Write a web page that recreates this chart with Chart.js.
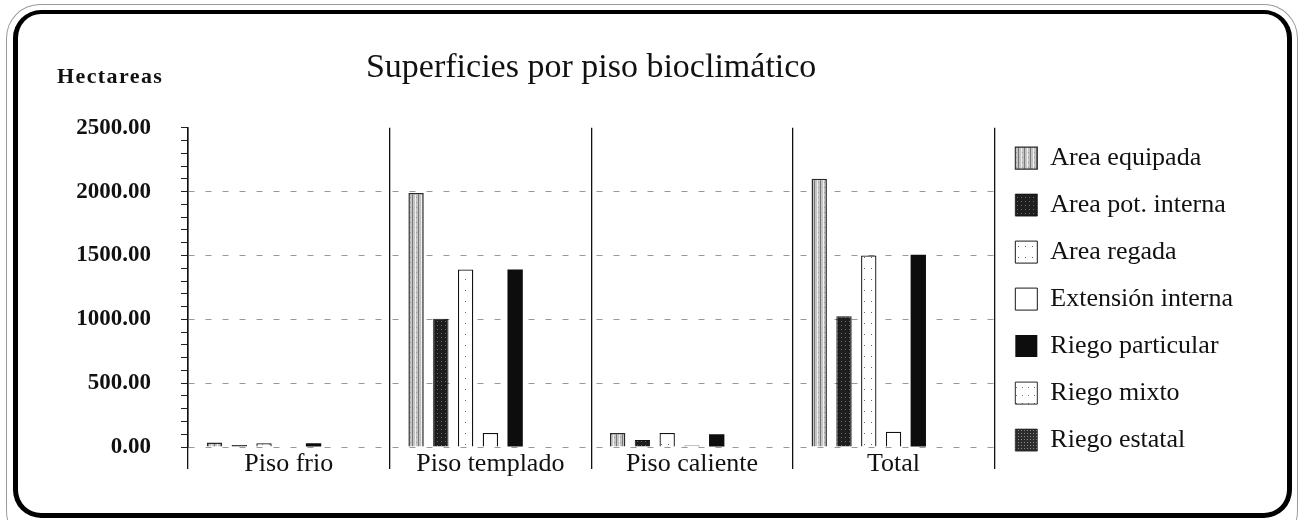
<!DOCTYPE html>
<html>
<head>
<meta charset="utf-8">
<script src="https://cdn.jsdelivr.net/npm/chart.js@4.4.0/dist/chart.umd.min.js"></script>
<style>
html, body { margin: 0; padding: 0; background: #fff; }
#wrap { position: relative; width: 1309px; height: 520px; overflow: hidden; }
#outer { position: absolute; left: 6px; top: 4px; width: 1290px; height: 540px; border: 1px solid #9a9a9a; border-bottom: none; border-radius: 34px; }
#frame { position: absolute; left: 13px; top: 10px; width: 1269px; height: 499px; border: 5px solid #000; border-top-width: 4px; border-radius: 28px; }
canvas { position: absolute; left: 0; top: 0; }
.txt { position: absolute; font-family: "Liberation Serif", "DejaVu Serif", serif; color: #111; white-space: nowrap; }
#unit { left: 57px; top: 63px; font-size: 22px; font-weight: bold; letter-spacing: 1.4px; }
</style>
</head>
<body>
<div id="wrap">
  <div id="outer"></div>
  <div id="frame"></div>
  <canvas id="chart" width="1309" height="520"></canvas>
  <div class="txt" id="unit">Hectareas</div>
</div>
<script>
// ---------------- datos ----------------
const chartTitle = 'Superficies por piso bioclimático';
const categories = ['Piso frio', 'Piso templado', 'Piso caliente', 'Total'];
const seriesNames = ['Area equipada', 'Area pot. interna', 'Area regada', 'Extensión interna',
                     'Riego particular', 'Riego mixto', 'Riego estatal'];

const areaEquipada     = [35, 1990, 110, 2100];
const areaPotInterna   = [15, 1005, 55, 1025];
const areaRegada       = [30, 1390, 110, 1500];
const extensionInterna = [0, 110, 12, 120];
const riegoParticular  = [30, 1390, 100, 1505];
const riegoMixto       = [0, 0, 0, 0];
const riegoEstatal     = [0, 0, 0, 0];

const Y_MIN = 0;
const Y_MAX = 2500;
const Y_LABEL_STEP = 500;

const FONT = '"Liberation Serif", "DejaVu Serif", serif';

// ---------------- tramas de las barras ----------------
function makePattern(w, h, draw) {
    const c = document.createElement('canvas');
    c.width = w; c.height = h;
    const g = c.getContext('2d');
    draw(g);
    return g.createPattern(c, 'repeat');
}

const patEquipada = makePattern(6, 5, g => {
    g.fillStyle = '#c4c4c4'; g.fillRect(0, 0, 6, 5);
    g.fillStyle = '#efefef'; g.fillRect(1, 0, 1, 5);
    g.fillStyle = '#777';    g.fillRect(4, 0, 1, 5);
    g.fillStyle = '#999';    g.fillRect(2, 2, 1, 1);
});
const patPot = makePattern(4, 4, g => {
    g.fillStyle = '#1e1e1e'; g.fillRect(0, 0, 4, 4);
    g.fillStyle = '#6a6a6a'; g.fillRect(1, 1, 1, 1);
});
const patRegada = makePattern(7, 11, g => {
    g.fillStyle = '#fff'; g.fillRect(0, 0, 7, 11);
    g.fillStyle = '#666'; g.fillRect(3, 4, 1, 1);
});
const patMixto = makePattern(6, 8, g => {
    g.fillStyle = '#fff'; g.fillRect(0, 0, 6, 8);
    g.fillStyle = '#777'; g.fillRect(2, 3, 1, 1);
});
const patEstatal = makePattern(3, 3, g => {
    g.fillStyle = '#2c2c2c'; g.fillRect(0, 0, 3, 3);
    g.fillStyle = '#8a8a8a'; g.fillRect(1, 1, 1, 1);
});

// un valor cero no se dibuja (en el original no hay barra)
const noZero = arr => arr.map(v => (v === 0 ? null : v));
const edge = w => ({ left: w, right: w, top: w, bottom: 0 });

const datasets = [
    { label: seriesNames[0], data: noZero(areaEquipada),     backgroundColor: patEquipada, borderColor: '#2a2a2a', borderWidth: edge(1.5) },
    { label: seriesNames[1], data: noZero(areaPotInterna),   backgroundColor: patPot,      borderColor: '#111',    borderWidth: edge(1) },
    { label: seriesNames[2], data: noZero(areaRegada),       backgroundColor: patRegada,   borderColor: '#111',    borderWidth: edge(1.3) },
    { label: seriesNames[3], data: noZero(extensionInterna), backgroundColor: '#fff',      borderColor: '#111',    borderWidth: edge(1.3) },
    { label: seriesNames[4], data: noZero(riegoParticular),  backgroundColor: '#0d0d0d',   borderColor: '#0d0d0d', borderWidth: 0 },
    { label: seriesNames[5], data: noZero(riegoMixto),       backgroundColor: patMixto,    borderColor: '#111',    borderWidth: edge(1.2) },
    { label: seriesNames[6], data: noZero(riegoEstatal),     backgroundColor: patEstatal,  borderColor: '#222',    borderWidth: edge(1) }
];

// ---------------- gráfico ----------------
const ctx = document.getElementById('chart').getContext('2d');
const myChart = new Chart(ctx, {
    type: 'bar',
    data: { labels: categories, datasets: datasets },
    options: {
        responsive: false,
        animation: false,
        layout: { padding: { left: 40, top: 10, right: 66, bottom: 13 } },
        datasets: {
            bar: { categoryPercentage: 0.86, barPercentage: 0.62 }
        },
        scales: {
            x: {
                afterFit: s => { s.height = 60; },
                grid: { offset: true, color: '#111', lineWidth: 1.3, tickLength: 22, drawOnChartArea: true },
                border: { display: false },
                ticks: { padding: -20, color: '#111', font: { family: FONT, size: 26 } }
            },
            y: {
                min: Y_MIN,
                max: Y_MAX,
                afterFit: s => { s.width = 148; },
                ticks: {
                    stepSize: 100,
                    autoSkip: false,
                    padding: 30,
                    color: '#111',
                    font: { family: FONT, size: 23, weight: 'bold' },
                    callback: v => (v % Y_LABEL_STEP === 0 ? v.toFixed(2) : '')
                },
                grid: {
                    color: c => (c.tick && c.tick.value % Y_LABEL_STEP === 0 && c.tick.value < Y_MAX) ? '#999' : 'rgba(0,0,0,0)',
                    tickColor: '#222',
                    tickLength: 7,
                    lineWidth: 1
                },
                border: { display: true, color: '#111', width: 1.5, dash: [6, 11] }
            }
        },
        plugins: {
            title: {
                display: true,
                text: chartTitle,
                fullSize: false,
                color: '#111',
                font: { family: FONT, size: 34, weight: 'normal' },
                padding: { top: 38, bottom: 39 }
            },
            legend: {
                position: 'right',
                align: 'center',
                title: { display: true, text: '', padding: { top: 0, bottom: 50 }, font: { family: FONT, size: 26 } },
                labels: {
                    boxWidth: 22,
                    boxHeight: 22,
                    padding: 21,
                    color: '#111',
                    font: { family: FONT, size: 26 }
                }
            },
            tooltip: { enabled: false }
        }
    }
});
</script>
</body>
</html>
